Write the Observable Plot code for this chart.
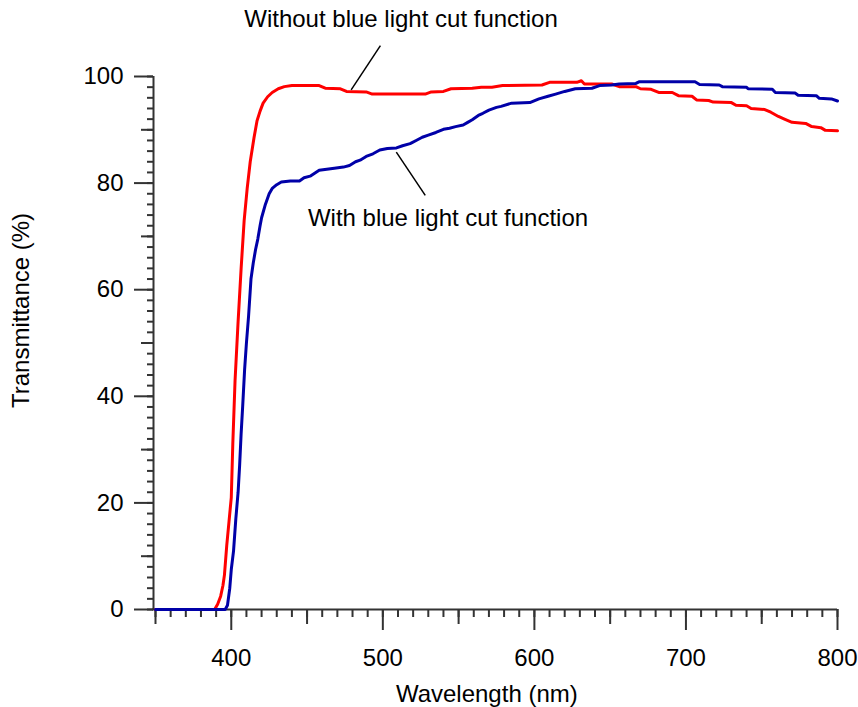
<!DOCTYPE html>
<html><head><meta charset="utf-8">
<script src="https://cdn.jsdelivr.net/npm/d3@7"></script>
<script src="https://cdn.jsdelivr.net/npm/@observablehq/plot@0.6"></script>
<style>body{margin:0;background:#fff;}</style>
</head><body><div id="chart"></div>
<script>
// Series: without blue light cut function (red)
const redWavelength = [350,389,391,393,394.5,395.5,397,398.5,400,401,402.5,404.5,406.5,408.5,410.5,412.5,415,417,419,421,424,427,431,435,440,458,462,472,476,489,493,528,532,540,545,559,565,572,579,605,610,628,631,633,651,656,667,670,677,682,691,695,704,707,715,718,730,733,740,743,752,756,761,765,770,779,783,789,792,800];
const redTransmittance = [0,0,1,2.5,4.5,6.5,12,16.5,21,31,43,54,64,73,79,84,88.5,91.7,93.5,95,96.2,97,97.7,98.1,98.3,98.3,97.8,97.7,97.2,97.1,96.7,96.7,97.1,97.2,97.7,97.8,98,98,98.3,98.4,98.9,98.9,99.2,98.6,98.6,98.1,98.1,97.7,97.6,97,97,96.4,96.3,95.6,95.5,95.2,95.1,94.6,94.5,94,93.8,93.3,92.5,92,91.4,91.2,90.6,90.4,89.9,89.8];
// Series: with blue light cut function (blue)
const blueWavelength = [350,396,397.5,399,400,401.5,403,404.5,405.5,406.5,407.5,408.8,410,411.4,413,414.5,416,417.5,419,420,422.5,425,427,430,433,439,445,448,452,458,463,468,474,478,482,485,489,493.5,498,503,509,513,518,522,526,530,535,540,544,548,553,556,559,563,566,570,575,578,585,597,603,609,614,620,627,638,643,651,656,667,669,706,709,722,724,740,741,757,759,772,774,786,788,796,800];
const blueTransmittance = [0,0,0.8,4,7.5,11,17,22,27,33,38,45,50,55,62,65,67.5,69.5,72,73.5,76,78,79,79.7,80.2,80.4,80.4,81,81.3,82.4,82.6,82.8,83,83.3,84,84.3,85,85.5,86.2,86.5,86.6,87,87.4,88,88.6,89,89.5,90.1,90.3,90.6,90.9,91.4,91.9,92.7,93.1,93.7,94.2,94.4,95,95.1,95.8,96.3,96.7,97.2,97.7,97.8,98.3,98.4,98.6,98.7,99,99,98.5,98.4,98.1,98,97.7,97.6,97,96.9,96.5,96.4,95.9,95.8,95.4];

// Tick values
const xMajorTicks = [400,500,600,700,800];
const xMediumTicks = [350,450,550,650,750];
const xMinorTicks = [350,360,370,380,390,400,410,420,430,440,450,460,470,480,490,500,510,520,530,540,550,560,570,580,590,600,610,620,630,640,650,660,670,680,690,700,710,720,730,740,750,760,770,780,790,800];
const yMajorTicks = [0,20,40,60,80,100];
const yMediumTicks = [10,30,50,70,90];
const yMinorTicks = [0,2,4,6,8,10,12,14,16,18,20,22,24,26,28,30,32,34,36,38,40,42,44,46,48,50,52,54,56,58,60,62,64,66,68,70,72,74,76,78,80,82,84,86,88,90,92,94,96,98,100];

// Annotations (data coordinates)
const annotationText = ["Without blue light cut function", "With blue light cut function"];
const annotationX = [512, 543];
const annotationY = [109.3, 71.9];
const leaderX1 = [498.4, 508.9];
const leaderY1 = [105.8, 85.8];
const leaderX2 = [479.1, 528.0];
const leaderY2 = [97.5, 77.7];

const xLabel = "Wavelength (nm)";
const yLabel = "Transmittance (%)";

const red = redWavelength.map((w, i) => ({w, t: redTransmittance[i]}));
const blue = blueWavelength.map((w, i) => ({w, t: blueTransmittance[i]}));
const annotations = annotationText.map((text, i) => ({text, x: annotationX[i], y: annotationY[i]}));
const leaders = leaderX1.map((x1, i) => ({x1, y1: leaderY1[i], x2: leaderX2[i], y2: leaderY2[i]}));

const axisColor = "#333";
const noText = () => "";

const chart = Plot.plot({
  width: 858,
  height: 707,
  marginLeft: 155,
  marginRight: 21,
  marginTop: 76,
  marginBottom: 98,
  style: {fontFamily: "'Liberation Sans', Arial, sans-serif", fontSize: "24px", background: "#fff", color: "#000"},
  x: {domain: [350, 800]},
  y: {domain: [0, 100]},
  marks: [
    Plot.axisX({ticks: xMinorTicks, tickSize: 8, tickFormat: noText, label: null, stroke: axisColor, strokeWidth: 2}),
    Plot.axisX({ticks: xMediumTicks, tickSize: 15, tickFormat: noText, label: null, stroke: axisColor, strokeWidth: 2}),
    Plot.axisX({ticks: xMajorTicks, tickSize: 21, tickPadding: 18, tickFormat: d => String(d), label: null, stroke: axisColor, fill: "#000", strokeWidth: 2}),
    Plot.axisY({ticks: yMinorTicks, tickSize: 6, tickFormat: noText, label: null, stroke: axisColor, strokeWidth: 2, dx: -2}),
    Plot.axisY({ticks: yMediumTicks, tickSize: 12, tickFormat: noText, label: null, stroke: axisColor, strokeWidth: 2, dx: -2}),
    Plot.axisY({ticks: yMajorTicks, tickSize: 19, tickPadding: 11, tickFormat: d => String(d), label: null, stroke: axisColor, fill: "#000", strokeWidth: 2, dx: -2}),
    Plot.ruleY([0], {stroke: axisColor, strokeWidth: 2, insetLeft: -3}),
    Plot.ruleX([350], {stroke: axisColor, strokeWidth: 2, dx: -2}),
    Plot.line(red, {x: "w", y: "t", stroke: "#ff0000", strokeWidth: 3}),
    Plot.line(blue, {x: "w", y: "t", stroke: "#0000a8", strokeWidth: 3}),
    Plot.link(leaders, {x1: "x1", y1: "y1", x2: "x2", y2: "y2", stroke: "#000", strokeWidth: 1.5}),
    Plot.text(annotations, {x: "x", y: "y", text: "text", lineAnchor: "bottom", fontSize: 24, fill: "#000"}),
    Plot.text([xLabel], {x: 568.6, y: -17.4, text: d => d, lineAnchor: "bottom", fontSize: 24, fill: "#000"}),
    Plot.text([yLabel], {x: 350, y: 56.1, text: d => d, rotate: -90, dx: -134, fontSize: 24, fill: "#000"})
  ]
});
document.getElementById("chart").appendChild(chart);
</script>
</body></html>
